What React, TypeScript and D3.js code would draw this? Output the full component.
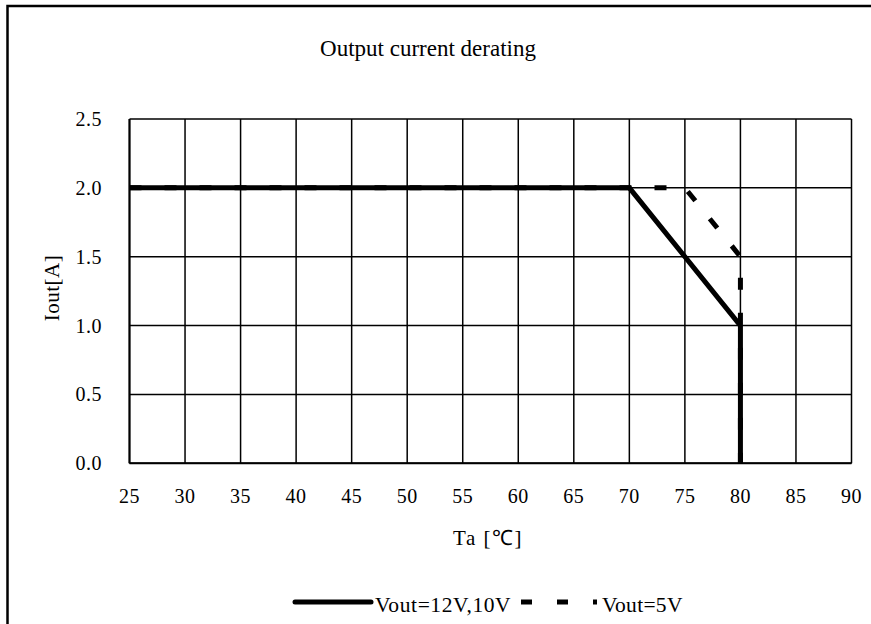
import React from "react";
import * as d3 from "d3";

const xTicks = [25, 30, 35, 40, 45, 50, 55, 60, 65, 70, 75, 80, 85, 90];
const yTicks = [0.0, 0.5, 1.0, 1.5, 2.0, 2.5];
const seriesNames = ["Vout=12V,10V", "Vout=5V"];
const series12V_x = [25, 70, 80, 80];
const series12V_y = [2.0, 2.0, 1.0, 0.0];
const series5V_x = [25, 75, 80, 80];
const series5V_y = [2.0, 2.0, 1.5, 0.0];
const title = "Output current derating";
const xLabel = "Ta [℃]";
const yLabel = "Iout[A]";

export default function App() {
  const W = 871, H = 624;
  const x = d3.scaleLinear().domain([25, 90]).range([129.5, 851.5]);
  const y = d3.scaleLinear().domain([0, 2.5]).range([463.3, 119]);
  const line = d3
    .line<[number, number]>()
    .x((d) => x(d[0]))
    .y((d) => y(d[1]));
  const s1: [number, number][] = series12V_x.map((v, i) => [v, series12V_y[i]]);
  const s2: [number, number][] = series5V_x.map((v, i) => [v, series5V_y[i]]);
  const font = "'Liberation Serif', 'Times New Roman', serif";
  return (
    <svg
      width={W}
      height={H}
      style={{ position: "absolute", left: 0, top: 0, background: "#fff" }}
      fontFamily={font}
    >
      <rect x={0} y={0} width={W} height={H} fill="#fff" />
      <rect x={7.5} y={6} width={W + 20} height={H + 20} fill="none" stroke="#000" strokeWidth={2.5} />
      <text x={428} y={56} textAnchor="middle" fontSize={23}>
        {title}
      </text>
      {/* grid */}
      {xTicks.map((t) => (
        <line key={"gx" + t} x1={x(t)} x2={x(t)} y1={y(2.5)} y2={y(0)} stroke="#000" strokeWidth={1.5} />
      ))}
      {yTicks.map((t) => (
        <line key={"gy" + t} x1={x(25)} x2={x(90)} y1={y(t)} y2={y(t)} stroke="#000" strokeWidth={1.5} />
      ))}
      <line x1={x(25)} x2={x(25)} y1={y(2.5)} y2={y(0)} stroke="#000" strokeWidth={2} />
      <line x1={x(25)} x2={x(90)} y1={y(0)} y2={y(0)} stroke="#000" strokeWidth={2} />
      {/* tick labels */}
      {xTicks.map((t) => (
        <text key={"tx" + t} x={x(t)} y={503} textAnchor="middle" fontSize={20} letterSpacing={0.5}>
          {t}
        </text>
      ))}
      {yTicks.map((t) => (
        <text key={"ty" + t} x={102} y={y(t) + 7} textAnchor="end" fontSize={20} letterSpacing={0.5}>
          {t.toFixed(1)}
        </text>
      ))}
      <text x={488} y={545} textAnchor="middle" fontSize={21} letterSpacing={1.5}>
        {xLabel}
      </text>
      <text
        transform={`translate(59,288) rotate(-90)`}
        textAnchor="middle"
        fontSize={21}
        letterSpacing={0.5}
      >
        {yLabel}
      </text>
      {/* series */}
      <path d={line(s1) || ""} fill="none" stroke="#000" strokeWidth={5} strokeLinejoin="miter" />
      <path
        d={line(s2) || ""}
        fill="none"
        stroke="#000"
        strokeWidth={5}
        strokeDasharray="12,23"
      />
      {/* legend */}
      <line x1={295} x2={371} y1={602} y2={602} stroke="#000" strokeWidth={5} strokeLinecap="round" />
      <text x={375} y={612} fontSize={21.5} letterSpacing={0.6}>
        {seriesNames[0]}
      </text>
      <line x1={521} x2={597} y1={602} y2={602} stroke="#000" strokeWidth={5} strokeDasharray="11,25" />
      <text x={602} y={612} fontSize={21.5} letterSpacing={0.3}>
        {seriesNames[1]}
      </text>
    </svg>
  );
}
